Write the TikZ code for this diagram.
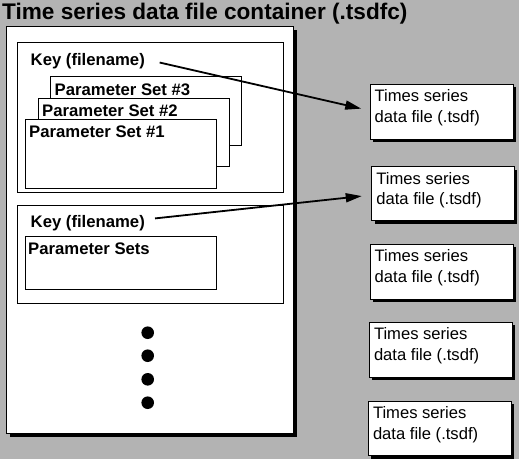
\documentclass[tikz,border=0pt]{standalone}
\usepackage{fontspec}
\setmainfont{Liberation Sans}
\usetikzlibrary{arrows.meta,shadows}
\definecolor{bg}{RGB}{179,179,179}
\begin{document}
\begin{tikzpicture}[x=1pt,y=-1pt,
  panel/.style={draw,fill=white,line width=0.9pt,anchor=north west,inner sep=0pt,outer sep=0pt},
  shad/.style={drop shadow={shadow xshift=#1,shadow yshift=-#1,fill=black,opacity=1}},
  boldtxt/.style={anchor=base west,inner sep=0pt,font=\fontsize{16.7}{20}\selectfont\bfseries},
  filetxt/.style={anchor=base west,inner sep=0pt,align=left,font=\fontsize{16.6}{20.7}\selectfont},
  conn/.style={line width=1.8pt,-{Triangle[length=16pt,width=9pt]}},
  dotnode/.style={circle,fill=black,inner sep=0pt,minimum size=12.6pt}]
\useasboundingbox (0,0) rectangle (519,459);
\fill[bg] (0,0) rectangle (519,459);
% title
\node[anchor=base west,inner sep=0pt,font=\fontsize{22.6}{27}\selectfont\bfseries] (title) at (2,19.5) {Time series data file container (.tsdfc)};
% container
\node[panel,shad=4pt,minimum width=287pt,minimum height=407pt] (cont) at (6,26) {};
% first key block
\node[panel,minimum width=266.4pt,minimum height=150pt] (kb1) at (17.3,42.3) {};
\node[boldtxt] (key1) at (30.5,65) {Key (filename)};
\node[panel,minimum width=190.6pt,minimum height=69pt] (ps3) at (50.7,76.7) {};
\node[boldtxt] (ps3t) at (54.5,95) {Parameter Set \#3};
\node[panel,minimum width=191pt,minimum height=67.7pt] (ps2) at (38.3,98.3) {};
\node[boldtxt] (ps2t) at (42,116.7) {Parameter Set \#2};
\node[panel,minimum width=191.4pt,minimum height=69.3pt] (ps1) at (25.3,119) {};
\node[boldtxt] (ps1t) at (29,137.3) {Parameter Set \#1};
% second key block
\node[panel,minimum width=266.4pt,minimum height=98pt] (kb2) at (17.3,205.3) {};
\node[boldtxt] (key2) at (30.5,227.3) {Key (filename)};
\node[panel,minimum width=191.4pt,minimum height=53pt] (pss) at (25.3,236.3) {};
\node[boldtxt] (psst) at (28,254.3) {Parameter Sets};
% dots
\node[dotnode] (d1) at (147.7,332.7) {};
\node[dotnode] (d2) at (147.7,355.7) {};
\node[dotnode] (d3) at (147.7,379.3) {};
\node[dotnode] (d4) at (147.7,402.7) {};
% file boxes
\foreach \i/\x/\y/\w/\h in {1/370/84.3/143.3/54.7, 2/371.7/166.7/142.6/54, 3/370/244.3/143.3/54.7, 4/369.3/322.3/142.7/54.7, 5/368.3/401.3/143/54.4}{
  \node[panel,shad=3pt,minimum width=\w pt,minimum height=\h pt] (f\i) at (\x,\y) {};
  \node[filetxt] (t\i) at ([xshift=4.5pt,yshift=-17.5pt]f\i.north west) {\begin{tabular}[t]{@{}l@{}}Times series\\data file (.tsdf)\end{tabular}};
}
% connectors
\draw[conn,shorten <=15pt,shorten >=9pt] ([yshift=1.5pt]key1.east) -- ([yshift=1pt]f1.west);
\draw[conn,shorten <=10pt,shorten >=10pt] ([yshift=3.5pt]key2.east) -- ([yshift=-1.3pt]f2.west);
\end{tikzpicture}
\end{document}
